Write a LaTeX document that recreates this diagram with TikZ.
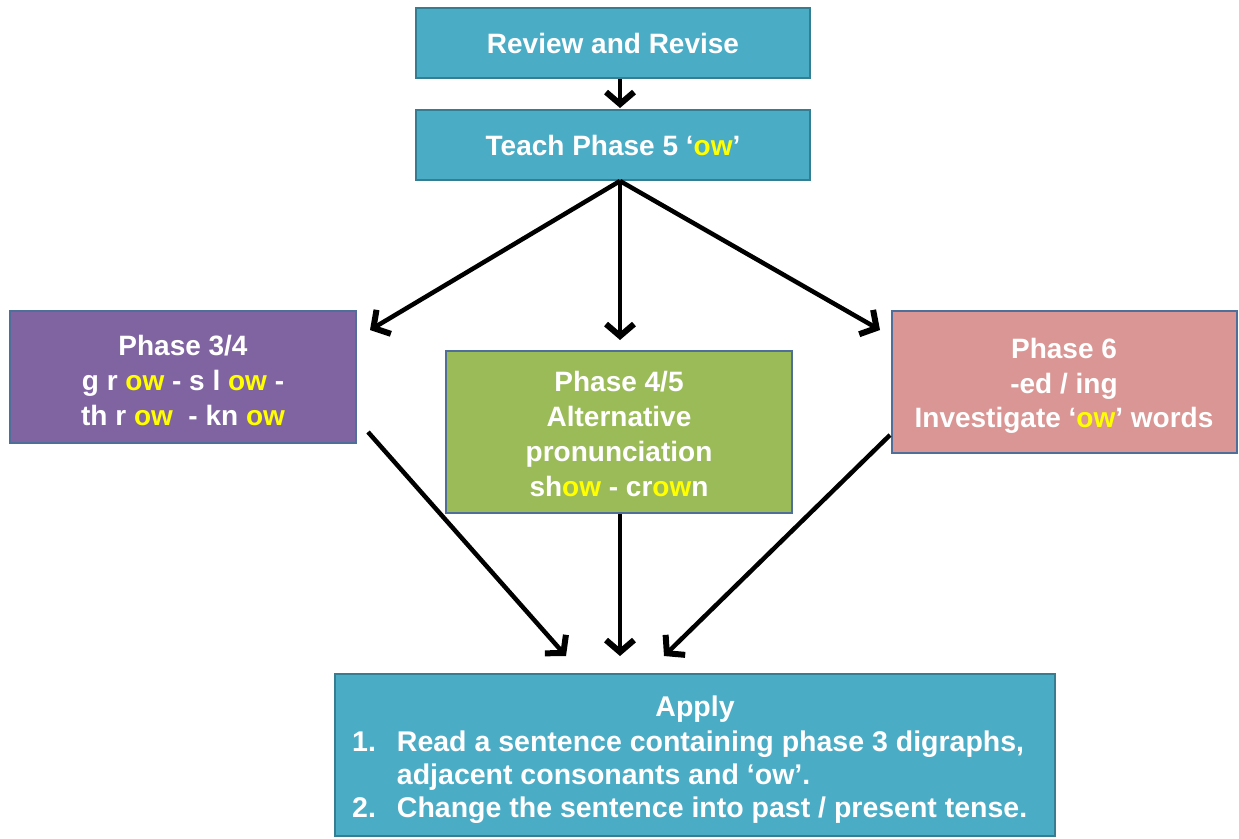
\documentclass[tikz,border=0pt]{standalone}
\usepackage{fontspec}
\setmainfont[Ligatures=TeX]{Liberation Sans}
\usetikzlibrary{arrows.meta}
\definecolor{tealfill}{HTML}{4BACC6}
\definecolor{tealline}{HTML}{357D91}
\definecolor{purplefill}{HTML}{8064A2}
\definecolor{greenfill}{HTML}{9BBB59}
\definecolor{pinkfill}{HTML}{D99694}
\definecolor{boxline}{HTML}{4F6E9A}
\definecolor{owyellow}{HTML}{FFFF00}
\newcommand{\ow}[1]{\textcolor{owyellow}{#1}}
\begin{document}
\begin{tikzpicture}[x=1pt,y=-1pt,
  box/.style={draw, line width=2pt, text=white, font=\bfseries\fontsize{28}{34}\selectfont, align=center, inner sep=0pt},
  plain/.style={text=white, font=\bfseries\fontsize{28.5}{33}\selectfont, inner sep=0pt},
  conn/.style={line width=4.5pt, -{Straight Barb[length=12pt,width=28pt,line width=6pt]}}]
\useasboundingbox (0,0) rectangle (1239,838);
% boxes
\node[box, fill=tealfill, draw=tealline, minimum width=394pt, minimum height=70pt] (rev) at (613,43) {Review and Revise};
\node[box, fill=tealfill, draw=tealline, minimum width=394pt, minimum height=70pt] (teach) at (613,145) {Teach Phase 5 ‘\ow{ow}’};
\node[box, fill=purplefill, draw=boxline, minimum width=346pt, minimum height=132pt] (p34) at (183,377) {};
\node[text=white, font=\bfseries\fontsize{28}{35}\selectfont, align=center, inner sep=0pt] (p34text) at (183,380) {Phase 3/4\\g r \ow{ow} - s l \ow{ow} -\\th r \ow{ow}\ \ - kn \ow{ow}};
\node[box, fill=greenfill, draw=boxline, minimum width=346pt, minimum height=162pt] (p45) at (619,432) {};
\node[text=white, font=\bfseries\fontsize{28}{35}\selectfont, align=center, inner sep=0pt] (p45text) at (619,434) {Phase 4/5\\Alternative\\pronunciation\\sh\ow{ow} - cr\ow{ow}n};
\node[box, fill=pinkfill, draw=boxline, minimum width=345pt, minimum height=142pt] (p6) at (1064,382) {};
\node[text=white, font=\bfseries\fontsize{28}{34.5}\selectfont, align=center, inner sep=0pt] (p6text) at (1064,386) {Phase 6\\-ed / ing\\Investigate ‘\ow{ow}’ words};
\node[box, fill=tealfill, draw=tealline, minimum width=720pt, minimum height=162pt] (applybox) at (695,755) {};
\node[plain] (apply) at (695,709) {Apply};
\node[plain, anchor=west] (list) at (352,778) {\begin{tabular}{@{}l@{\hspace{21pt}}l@{}}
1. & Read a sentence containing phase 3 digraphs,\\
   & adjacent consonants and ‘ow’.\\
2. & Change the sentence into past / present tense.
\end{tabular}};
% free ends of connectors
\coordinate (p34in) at (370,330);
\coordinate (p45in) at (620,340);
\coordinate (p6in) at (880,330);
\coordinate (p34out) at (368,432);
\coordinate (p6out) at (890,435);
\coordinate (applyL) at (566,656);
\coordinate (applyM) at (620,656);
\coordinate (applyR) at (664,656);
% connectors
\draw[conn] ([xshift=7pt]rev.south) -- ([xshift=7pt,yshift=1pt]teach.north);
\draw[conn] ([xshift=7pt]teach.south) -- (p34in);
\draw[conn] ([xshift=7pt]teach.south) -- (p45in);
\draw[conn] ([xshift=7pt]teach.south) -- (p6in);
\draw[conn] (p34out) -- (applyL);
\draw[conn] ([xshift=1pt]p45.south) -- (applyM);
\draw[conn] (p6out) -- (applyR);
\end{tikzpicture}
\end{document}
